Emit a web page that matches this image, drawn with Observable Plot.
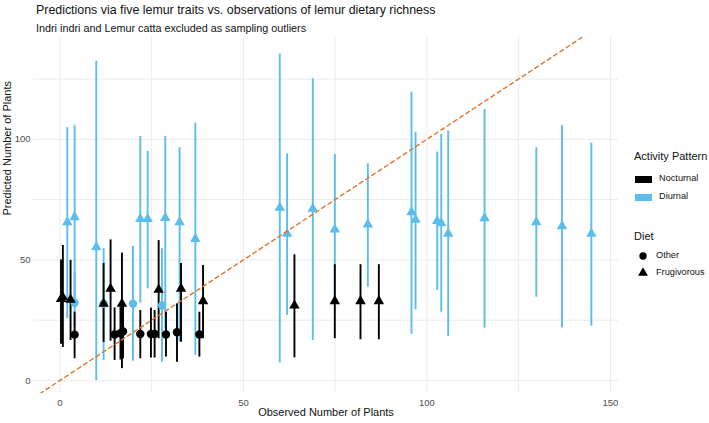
<!DOCTYPE html>
<html>
<head>
<meta charset="utf-8">
<script src="https://cdn.jsdelivr.net/npm/d3@7"></script>
<script src="https://cdn.jsdelivr.net/npm/@observablehq/plot@0.6"></script>
<style>
  html, body { margin: 0; padding: 0; background: #fff; }
  body { font-family: "Liberation Sans", Arial, Helvetica, sans-serif; }
  #wrap { position: relative; width: 709px; height: 423px; overflow: hidden; }
  #wrap svg { position: absolute; left: 0; top: 0; }
  .title { position: absolute; left: 36px; top: 3px; font-size: 12.4px; color: #111; white-space: nowrap; }
  .subtitle { position: absolute; left: 36px; top: 22px; font-size: 10.8px; color: #111; white-space: nowrap; }
  .legend { position: absolute; left: 634px; font-size: 11px; color: #111; white-space: nowrap; }
  .lab { position: absolute; font-size: 9.2px; color: #111; white-space: nowrap; }
</style>
</head>
<body>
<div id="wrap"></div>
<script>
// observed number of plants
const observed = [0.8, 0.3, 2.9, 2.0, 4.0, 4.0, 4.0, 9.9, 11.9, 11.9, 13.8, 14.9, 16.9, 16.5, 17.2, 19.9, 21.9, 21.9, 23.9, 24.8, 25.8, 26.9, 27.8, 28.7, 28.9, 32.6, 31.9, 33.0, 36.9, 38.0, 39.0, 59.9, 61.9, 63.9, 68.9, 74.9, 74.9, 81.9, 83.9, 86.9, 95.8, 96.9, 102.8, 103.9, 105.8, 115.7, 129.8, 136.8, 144.8];
// predicted number of plants
const predicted = [34.5, 33.8, 33.5, 65.6, 67.7, 32.2, 19.0, 55.3, 31.8, 31.8, 38.0, 19.1, 31.8, 19.6, 20.3, 31.8, 67.0, 19.3, 67.0, 19.3, 19.3, 37.6, 31.1, 67.4, 19.1, 65.6, 20.0, 38.0, 58.7, 19.1, 32.9, 71.6, 60.8, 31.1, 71.2, 62.6, 32.9, 32.9, 64.7, 32.9, 69.8, 66.6, 66.1, 65.2, 60.8, 67.3, 65.6, 64.0, 60.8];
const lower = [13.7, 15.0, 16.6, 25.6, 30.0, 22.0, 9.0, 0.0, 8.3, 15.8, 16.3, 8.3, 4.9, 8.5, 9.0, 8.0, 32.0, 9.0, 38.0, 9.3, 9.3, 17.3, 7.6, 21.4, 9.7, 15.9, 7.6, 15.9, 10.4, 9.7, 17.3, 7.2, 27.0, 9.4, 16.6, 33.0, 17.3, 16.9, 38.7, 16.9, 19.1, 29.3, 37.3, 28.3, 18.2, 21.7, 34.5, 21.8, 22.5];
const upper = [56.0, 50.0, 49.8, 104.8, 105.7, 45.0, 28.3, 132.4, 54.7, 48.5, 58.3, 30.1, 52.8, 30.5, 31.0, 55.6, 101.2, 29.0, 95.0, 30.0, 29.0, 58.0, 54.6, 101.2, 28.3, 96.5, 31.8, 48.5, 106.7, 28.3, 47.7, 135.4, 94.0, 52.1, 125.1, 93.7, 48.0, 48.0, 89.8, 48.0, 119.5, 102.9, 94.7, 102.0, 103.4, 112.4, 96.5, 105.7, 98.4];
const activity = ["Nocturnal","Nocturnal","Nocturnal","Diurnal","Diurnal","Diurnal","Nocturnal","Diurnal","Diurnal","Nocturnal","Nocturnal","Nocturnal","Nocturnal","Nocturnal","Nocturnal","Diurnal","Diurnal","Nocturnal","Diurnal","Nocturnal","Nocturnal","Nocturnal","Diurnal","Diurnal","Nocturnal","Diurnal","Nocturnal","Nocturnal","Diurnal","Nocturnal","Nocturnal","Diurnal","Diurnal","Nocturnal","Diurnal","Diurnal","Nocturnal","Nocturnal","Diurnal","Nocturnal","Diurnal","Diurnal","Diurnal","Diurnal","Diurnal","Diurnal","Diurnal","Diurnal","Diurnal"];
const diet = ["Frugivorous","Frugivorous","Frugivorous","Frugivorous","Frugivorous","Other","Other","Frugivorous","Other","Frugivorous","Frugivorous","Other","Frugivorous","Other","Other","Other","Frugivorous","Other","Frugivorous","Other","Other","Frugivorous","Other","Frugivorous","Other","Frugivorous","Other","Frugivorous","Frugivorous","Other","Frugivorous","Frugivorous","Frugivorous","Frugivorous","Frugivorous","Frugivorous","Frugivorous","Frugivorous","Frugivorous","Frugivorous","Frugivorous","Frugivorous","Frugivorous","Frugivorous","Frugivorous","Frugivorous","Frugivorous","Frugivorous","Frugivorous"];

const activityLevels = ["Nocturnal", "Diurnal"];
const activityColors = ["#000000", "#5BBDEB"];
const dietLevels = ["Other", "Frugivorous"];
const dietSymbols = ["circle", "triangle"];
const xTicks = [0, 50, 100, 150];
const yTicks = [0, 50, 100];
const xGrid = [0, 25, 50, 75, 100, 125, 150];
const yGrid = [0, 25, 50, 75, 100, 125];
const xDomain = [-7.2, 152.2];
const yDomain = [-5.4, 142.2];

const data = observed.map((o, i) => ({
  observed: o, predicted: predicted[i], lower: lower[i], upper: upper[i],
  activity: activity[i], diet: diet[i]
}));
const oneToOne = xDomain.map(v => ({v}));

const W = 709, H = 423;
const plot = Plot.plot({
  width: W, height: H,
  marginTop: 37, marginBottom: 30, marginLeft: 33, marginRight: 91,
  style: { fontFamily: '"Liberation Sans", Arial, Helvetica, sans-serif', background: "transparent" },
  x: { domain: xDomain, ticks: xTicks, label: null },
  y: { domain: yDomain, ticks: yTicks, label: null },
  color: { domain: activityLevels, range: activityColors },
  symbol: { domain: dietLevels, range: dietSymbols },
  marks: [
    Plot.ruleX(xGrid, { stroke: "#EBEBEB", strokeWidth: 1, strokeOpacity: 1 }),
    Plot.ruleY(yGrid, { stroke: "#EBEBEB", strokeWidth: 1, strokeOpacity: 1 }),
    Plot.axisX({ ticks: xTicks, tickSize: 0, tickPadding: 6, fontSize: 9.5, fill: "#4D4D4D", label: null }),
    Plot.axisY({ ticks: yTicks, tickSize: 0, tickPadding: 3, fontSize: 9.5, fill: "#4D4D4D", label: null }),
    Plot.ruleX(data, { x: "observed", y1: "lower", y2: "upper", stroke: "activity", strokeWidth: 1.9 }),
    Plot.dot(data.filter(d => d.diet === "Other"), { x: "observed", y: "predicted", fill: "activity", symbol: "diet", r: 4.2, stroke: null }),
    Plot.dot(data.filter(d => d.diet !== "Other"), { x: "observed", y: "predicted", fill: "activity", symbol: "diet", r: 3.9, stroke: null }),
    Plot.line(oneToOne, { x: "v", y: "v", stroke: "#E0742C", strokeWidth: 1.4, strokeDasharray: "4,3.5", clip: true }),
    Plot.text(["Observed Number of Plants"], { frameAnchor: "bottom", dy: 22, fontSize: 11, fill: "#111" }),
    Plot.text(["Predicted Number of Plants"], { frameAnchor: "left", dx: -26, rotate: -90, fontSize: 11, fill: "#111" })
  ]
});

const wrap = document.getElementById("wrap");
wrap.appendChild(plot);

function addDiv(cls, text, left, top, extra) {
  const d = document.createElement("div");
  d.className = cls;
  d.textContent = text;
  if (left != null) d.style.left = left + "px";
  if (top != null) d.style.top = top + "px";
  if (extra) Object.assign(d.style, extra);
  wrap.appendChild(d);
  return d;
}
addDiv("title", "Predictions via five lemur traits vs. observations of lemur dietary richness");
addDiv("subtitle", "Indri indri and Lemur catta excluded as sampling outliers");

// Legend (HTML)
addDiv("legend", "Activity Pattern", 634, 150);
activityLevels.forEach((lv, i) => {
  const top = 173 + i * 18;
  addDiv("lab", "", 635, top + 3, { width: "17px", height: "7px", background: activityColors[i] });
  addDiv("lab", lv, 659, top);
});
addDiv("legend", "Diet", 634, 230);
const sym = d3.symbol().size(42);
dietLevels.forEach((lv, i) => {
  const top = 250 + i * 17;
  const s = document.createElementNS("http://www.w3.org/2000/svg", "svg");
  s.setAttribute("width", 14); s.setAttribute("height", 14);
  s.style.position = "absolute"; s.style.left = "636px"; s.style.top = (top - 1) + "px";
  const p = document.createElementNS("http://www.w3.org/2000/svg", "path");
  p.setAttribute("d", sym.type(dietSymbols[i] === "circle" ? d3.symbolCircle : d3.symbolTriangle)());
  p.setAttribute("transform", "translate(7,7)");
  p.setAttribute("fill", "#000");
  s.appendChild(p);
  wrap.appendChild(s);
  addDiv("lab", lv, 656, top);
});
</script>
</body>
</html>
